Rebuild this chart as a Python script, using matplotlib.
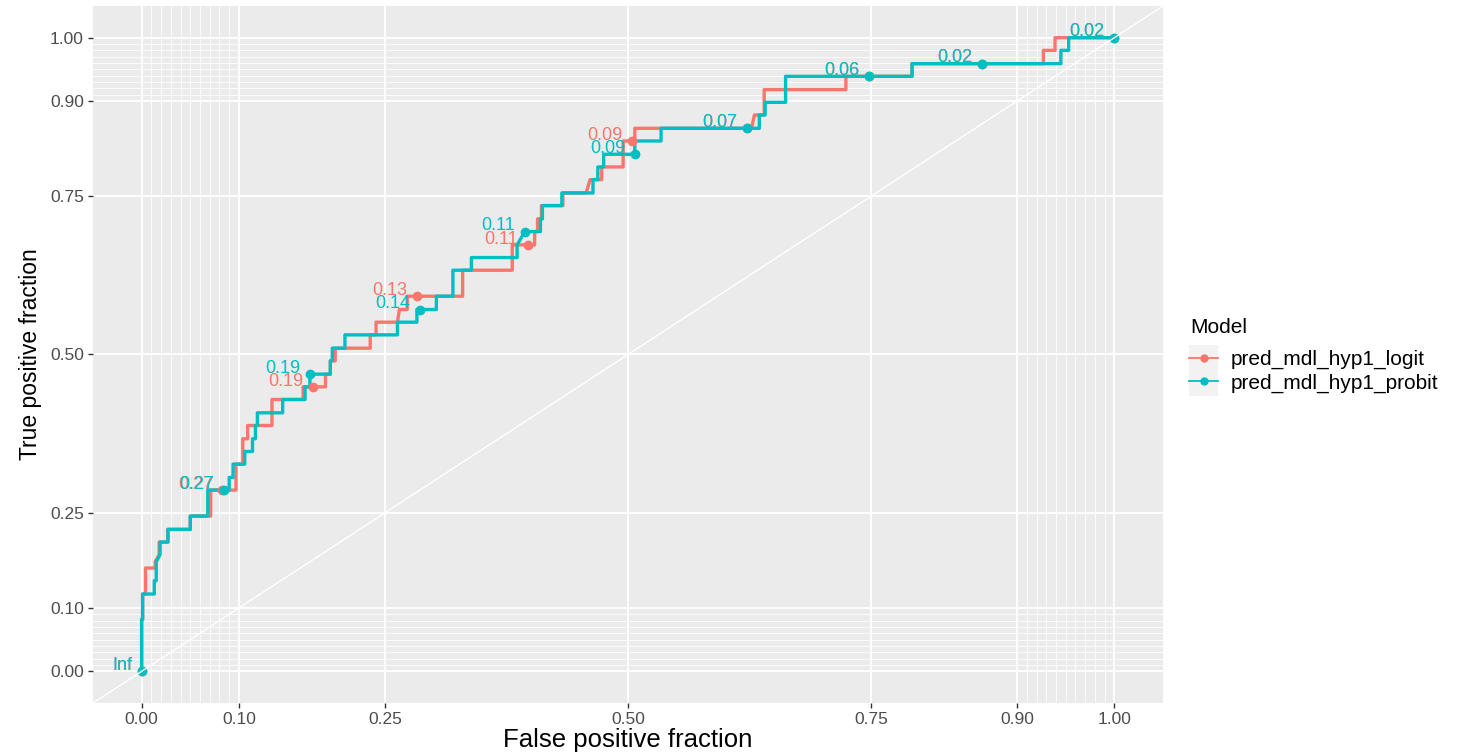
import matplotlib
matplotlib.use("Agg")
import matplotlib.pyplot as plt
from matplotlib.lines import Line2D
from matplotlib.patches import Rectangle

plt.rcParams['font.family'] = ['Liberation Sans', 'DejaVu Sans']

# ROC step vertices (FPR, TPR)
logit_fpr = [0, 0, 0.001, 0.001, 0.004, 0.004, 0.014, 0.014, 0.018, 0.018, 0.027, 0.027, 0.050, 0.050,
             0.071, 0.071, 0.097, 0.097, 0.104, 0.104, 0.109, 0.109, 0.134, 0.134, 0.166, 0.166, 0.189,
             0.189, 0.194, 0.194, 0.199, 0.199, 0.235, 0.235, 0.241, 0.241, 0.263, 0.265, 0.273, 0.273,
             0.330, 0.330, 0.381, 0.381, 0.404, 0.404, 0.407, 0.407, 0.411, 0.411, 0.433, 0.433, 0.457,
             0.461, 0.473, 0.473, 0.495, 0.495, 0.507, 0.507, 0.627, 0.630, 0.640, 0.640, 0.724, 0.724,
             0.792, 0.792, 0.927, 0.927, 0.939, 0.939, 1.0]
logit_tpr = [0, 0.082, 0.082, 0.122, 0.122, 0.163, 0.163, 0.173, 0.184, 0.204, 0.204, 0.224, 0.224, 0.245,
             0.245, 0.286, 0.286, 0.327, 0.327, 0.367, 0.367, 0.388, 0.388, 0.429, 0.429, 0.449, 0.449,
             0.469, 0.469, 0.490, 0.490, 0.510, 0.510, 0.531, 0.531, 0.551, 0.551, 0.571, 0.571, 0.592,
             0.592, 0.633, 0.633, 0.673, 0.673, 0.694, 0.694, 0.714, 0.714, 0.735, 0.735, 0.755, 0.755,
             0.776, 0.776, 0.796, 0.796, 0.837, 0.837, 0.857, 0.857, 0.878, 0.878, 0.918, 0.918, 0.939,
             0.939, 0.959, 0.959, 0.980, 0.980, 1.0, 1.0]

probit_fpr = [0, 0, 0.001, 0.001, 0.013, 0.013, 0.015, 0.015, 0.019, 0.019, 0.027, 0.027, 0.050, 0.050,
              0.068, 0.068, 0.090, 0.090, 0.094, 0.094, 0.106, 0.106, 0.114, 0.114, 0.117, 0.117, 0.119,
              0.119, 0.145, 0.145, 0.168, 0.168, 0.173, 0.173, 0.194, 0.194, 0.196, 0.196, 0.209, 0.209,
              0.263, 0.263, 0.283, 0.283, 0.303, 0.303, 0.320, 0.320, 0.339, 0.339, 0.386, 0.386, 0.394,
              0.410, 0.410, 0.412, 0.412, 0.432, 0.432, 0.464, 0.464, 0.469, 0.469, 0.475, 0.475, 0.507,
              0.507, 0.534, 0.534, 0.635, 0.635, 0.641, 0.641, 0.662, 0.662, 0.792, 0.792, 0.945, 0.945,
              0.953, 0.953, 1.0]
probit_tpr = [0, 0.082, 0.082, 0.122, 0.122, 0.143, 0.143, 0.173, 0.184, 0.204, 0.204, 0.224, 0.224, 0.245,
              0.245, 0.286, 0.286, 0.306, 0.306, 0.327, 0.327, 0.347, 0.347, 0.367, 0.367, 0.388, 0.388,
              0.408, 0.408, 0.429, 0.429, 0.449, 0.449, 0.469, 0.469, 0.490, 0.490, 0.510, 0.510, 0.531,
              0.531, 0.551, 0.551, 0.571, 0.571, 0.592, 0.592, 0.633, 0.633, 0.653, 0.653, 0.673, 0.694,
              0.694, 0.714, 0.714, 0.735, 0.735, 0.755, 0.755, 0.776, 0.776, 0.796, 0.796, 0.816, 0.816,
              0.837, 0.837, 0.857, 0.857, 0.878, 0.878, 0.898, 0.898, 0.939, 0.939, 0.959, 0.959, 0.980,
              0.980, 1.0, 1.0]

# cutoff points and their labels
logit_cut_x = [0, 0.083, 0.176, 0.283, 0.397, 0.504, 0.622, 0.748, 0.864, 1.0]
logit_cut_y = [0, 0.286, 0.449, 0.592, 0.673, 0.837, 0.857, 0.939, 0.959, 1.0]
logit_cut_lab = ["Inf", "0.27", "0.19", "0.13", "0.11", "0.09", "0.07", "0.06", "0.02", "0.02"]

probit_cut_x = [0, 0.085, 0.173, 0.286, 0.394, 0.507, 0.622, 0.748, 0.864, 1.0]
probit_cut_y = [0, 0.286, 0.469, 0.571, 0.694, 0.816, 0.857, 0.939, 0.959, 1.0]
probit_cut_lab = ["Inf", "0.27", "0.19", "0.14", "0.11", "0.09", "0.07", "0.06", "0.02", "0.02"]

models = ["pred_mdl_hyp1_logit", "pred_mdl_hyp1_probit"]
colors = ["#F8766D", "#00BFC4"]

major = [0, 0.1, 0.25, 0.5, 0.75, 0.9, 1.0]
major_lab = ["0.00", "0.10", "0.25", "0.50", "0.75", "0.90", "1.00"]
minor = [0.01, 0.02, 0.03, 0.04, 0.05, 0.06, 0.07, 0.08, 0.09,
         0.91, 0.92, 0.93, 0.94, 0.95, 0.96, 0.97, 0.98, 0.99]

W, H = 1466, 755
fig = plt.figure(figsize=(W / 100, H / 100), dpi=100)
ax = fig.add_axes([93 / W, 1 - 703 / H, (1163 - 93) / W, (703 - 6) / H])
ax.set_facecolor("#EBEBEB")
for s in ax.spines.values():
    s.set_visible(False)
ax.set_xlim(-0.05, 1.05)
ax.set_ylim(-0.05, 1.05)

ax.set_xticks(major)
ax.set_xticklabels(major_lab)
ax.set_yticks(major)
ax.set_yticklabels(major_lab)
ax.set_xticks(minor, minor=True)
ax.set_yticks(minor, minor=True)
ax.tick_params(which="major", length=3.5, width=1, color="#333333", labelcolor="#4D4D4D",
               labelsize=12.5, pad=3)
ax.tick_params(which="minor", length=0)
ax.grid(which="major", color="white", lw=1.3)
ax.grid(which="minor", color="white", lw=0.6)
ax.set_axisbelow(True)

curves = [(logit_fpr, logit_tpr, logit_cut_x, logit_cut_y, logit_cut_lab),
          (probit_fpr, probit_tpr, probit_cut_x, probit_cut_y, probit_cut_lab)]
for (fx, fy, cx, cy, lab), col in zip(curves, colors):
    ax.plot(fx, fy, color=col, lw=2.4, zorder=3)
    ax.plot(cx, cy, "o", color=col, ms=6, zorder=4, clip_on=False)
    for x, y, t in zip(cx, cy, lab):
        ax.annotate(t, (x, y), xytext=(-7, -2), textcoords="offset points",
                    ha="right", va="bottom", fontsize=13, color=col, zorder=5)

# diagonal reference
ax.plot([-0.05, 1.05], [-0.05, 1.05], color="white", lw=1.0, zorder=4.5)

ax.set_xlabel("False positive fraction", fontsize=18.5, labelpad=1)
ax.set_ylabel("True positive fraction", fontsize=16.5, labelpad=6)

# legend: title, grey key background, entries
fig.text(1190 / W, 1 - 327 / H, "Model", fontsize=15, va="center", ha="left")
fig.patches.append(Rectangle((1189 / W, 1 - 396 / H), 29 / W, 51 / H,
                             transform=fig.transFigure, facecolor="#F2F2F2",
                             edgecolor="none", zorder=0))
handles = [Line2D([0], [0], color=c, lw=1.3, marker="o", ms=5) for c in colors]
leg = fig.legend(handles, models, loc="upper left",
                 bbox_to_anchor=(1189 / W, 1 - 350 / H), frameon=False, borderpad=0,
                 borderaxespad=0, fontsize=15, handlelength=1.4,
                 handletextpad=0.6, labelspacing=0.2)

fig.savefig("out.png", dpi=100)
